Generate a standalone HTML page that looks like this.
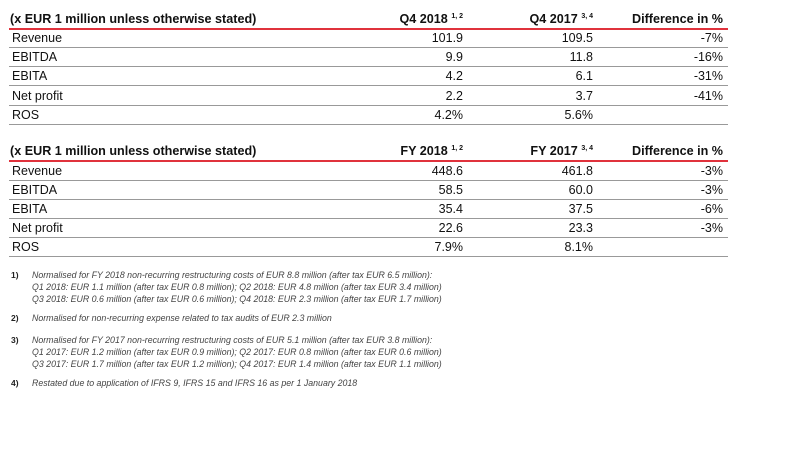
<!DOCTYPE html>
<html><head><style>
body{margin:0;width:800px;height:451px;background:#fff;font-family:"Liberation Sans",Arial,sans-serif;color:#111;position:relative;overflow:hidden}
.t{position:absolute;left:9px;width:719px}
.h{position:absolute;left:0;width:719px;height:18px;border-bottom:2px solid #e0323c;font-weight:bold;font-size:12.6px}
.r{position:absolute;left:0;width:719px;height:18px;border-bottom:1.3px solid #999;font-size:12.5px}
.c{position:absolute;bottom:2px;white-space:nowrap}
.l{left:3px}.a{right:265px}.b{right:135px}.d{right:5px}
.h .l{left:1px}
sup{font-size:7px;vertical-align:5px}
.f{position:absolute;font-size:8.8px;color:#444;font-style:italic;line-height:12px}
.n{position:absolute;left:11px;font-size:8.5px;font-weight:bold;color:#222}
</style></head><body>
<div class="t" style="top:10px">
<div class="h" style="top:0"><span class="c l">(x EUR 1 million unless otherwise stated)</span><span class="c a">Q4 2018 <sup>1, 2</sup></span><span class="c b">Q4 2017 <sup>3, 4</sup></span><span class="c d">Difference in %</span></div>
<div class="r" style="top:19px"><span class="c l">Revenue</span><span class="c a">101.9</span><span class="c b">109.5</span><span class="c d">-7%</span></div>
<div class="r" style="top:38px"><span class="c l">EBITDA</span><span class="c a">9.9</span><span class="c b">11.8</span><span class="c d">-16%</span></div>
<div class="r" style="top:57px"><span class="c l">EBITA</span><span class="c a">4.2</span><span class="c b">6.1</span><span class="c d">-31%</span></div>
<div class="r" style="top:76.5px"><span class="c l">Net profit</span><span class="c a">2.2</span><span class="c b">3.7</span><span class="c d">-41%</span></div>
<div class="r" style="top:95.5px"><span class="c l">ROS</span><span class="c a">4.2%</span><span class="c b">5.6%</span></div>
</div>
<div class="t" style="top:142px">
<div class="h" style="top:0"><span class="c l">(x EUR 1 million unless otherwise stated)</span><span class="c a">FY 2018 <sup>1, 2</sup></span><span class="c b">FY 2017 <sup>3, 4</sup></span><span class="c d">Difference in %</span></div>
<div class="r" style="top:20px"><span class="c l">Revenue</span><span class="c a">448.6</span><span class="c b">461.8</span><span class="c d">-3%</span></div>
<div class="r" style="top:39px"><span class="c l">EBITDA</span><span class="c a">58.5</span><span class="c b">60.0</span><span class="c d">-3%</span></div>
<div class="r" style="top:58px"><span class="c l">EBITA</span><span class="c a">35.4</span><span class="c b">37.5</span><span class="c d">-6%</span></div>
<div class="r" style="top:77px"><span class="c l">Net profit</span><span class="c a">22.6</span><span class="c b">23.3</span><span class="c d">-3%</span></div>
<div class="r" style="top:96px"><span class="c l">ROS</span><span class="c a">7.9%</span><span class="c b">8.1%</span></div>
</div>
<div class="n" style="top:270px">1)</div>
<div class="f" style="left:32px;top:269px">Normalised for FY 2018 non-recurring restructuring costs of EUR 8.8 million (after tax EUR 6.5 million):<br>Q1 2018: EUR 1.1 million (after tax EUR 0.8 million); Q2 2018: EUR 4.8 million (after tax EUR 3.4 million)<br>Q3 2018: EUR 0.6 million (after tax EUR 0.6 million); Q4 2018: EUR 2.3 million (after tax EUR 1.7 million)</div>
<div class="n" style="top:313px">2)</div>
<div class="f" style="left:32px;top:312px">Normalised for non-recurring expense related to tax audits of EUR 2.3 million</div>
<div class="n" style="top:335px">3)</div>
<div class="f" style="left:32px;top:334px">Normalised for FY 2017 non-recurring restructuring costs of EUR 5.1 million (after tax EUR 3.8 million):<br>Q1 2017: EUR 1.2 million (after tax EUR 0.9 million); Q2 2017: EUR 0.8 million (after tax EUR 0.6 million)<br>Q3 2017: EUR 1.7 million (after tax EUR 1.2 million); Q4 2017: EUR 1.4 million (after tax EUR 1.1 million)</div>
<div class="n" style="top:378px">4)</div>
<div class="f" style="left:32px;top:377px">Restated due to application of IFRS 9, IFRS 15 and IFRS 16 as per 1 January 2018</div>
</body></html>
